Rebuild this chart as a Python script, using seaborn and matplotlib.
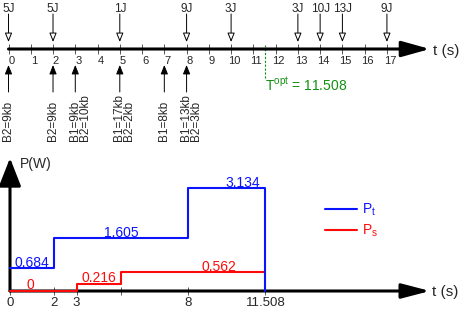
import matplotlib
matplotlib.use('Agg')
import matplotlib.pyplot as plt
import seaborn as sns
from matplotlib.transforms import ScaledTranslation

# energy arrivals (top arrows) and bit arrivals (bottom arrows) on the timeline
energy_times = [0, 2, 5, 8, 10, 13, 14, 15, 17]
energy_labels = ['5J', '5J', '1J', '9J', '3J', '3J', '10J', '13J', '9J']
data_times = [0, 2, 3, 5, 7, 8]
data_labels = ['B2=9kb', 'B2=9kb', 'B1=9kb\nB2=10kb', 'B1=17kb\nB2=2kb',
               'B1=8kb', 'B1=13kb\nB2=3kb']
timeline_ticks = list(range(18))
t_opt = 11.508

# power steps (last point closes the step)
pt_times = [0, 2, 8, 11.508]
pt_values = [0.684, 1.605, 3.134, 0]
ps_times = [0, 3, 5, 11.508]
ps_values = [0, 0.216, 0.562, 0.562]
power_ticks = [0, 2, 3, 5, 8, 11.508]
power_tick_labels = ['0', '2', '3', '', '8', '11.508']

# where the value labels sit along t
pt_label_t = [1.0, 5.0, 10.5]
ps_label_t = [0.9, 4.0, 9.4]

BLUE = '#0a14ff'
RED = '#ff0a0a'
GREEN = '#129012'


def fmt(v):
    return '0' if v == 0 else f'{v:.3f}'


def clean_axes(ax):
    ax.patch.set_visible(False)
    for side in ['left', 'right', 'top']:
        ax.spines[side].set_visible(False)
    ax.spines['bottom'].set_position(('data', 0))
    ax.spines['bottom'].set_color('none')
    ax.set_yticks([])


def main():
    sns.set_style('white')
    plt.rcParams['font.family'] = ['Liberation Sans', 'DejaVu Sans']
    plt.rcParams['mathtext.fontset'] = 'custom'
    plt.rcParams['mathtext.rm'] = 'Liberation Sans'
    plt.rcParams['mathtext.it'] = 'Liberation Sans'

    fig = plt.figure(figsize=(4.6, 3.09), dpi=100)
    shift = ScaledTranslation(0.03, 0, fig.dpi_scale_trans)

    # ---- top timeline ----
    ax = fig.add_axes([0, 1 - 150 / 309, 1, 150 / 309])
    ax.set_xlim(-8.5 / 22.26, 451.5 / 22.26)
    ax.set_ylim(-101, 49)
    clean_axes(ax)
    ax.set_xticks(timeline_ticks)
    ax.tick_params(axis='x', bottom=True, direction='inout', length=7.5, width=0.7,
                   color='#555555', labelsize=8, pad=1)
    for lbl in ax.get_xticklabels():
        lbl.set_transform(lbl.get_transform() + shift)

    ax.annotate('', xy=(18.93, 0), xytext=(0, 0),
                arrowprops=dict(arrowstyle='-|>,head_length=1.15,head_width=0.32',
                                mutation_scale=15, lw=2.2, color='black',
                                shrinkA=0, shrinkB=0))
    ax.text(19.07, -2, 't (s)', fontsize=11, ha='left', va='center')

    for t, lab in zip(energy_times, energy_labels):
        ax.annotate('', xy=(t, 7), xytext=(t, 35),
                    arrowprops=dict(arrowstyle='-|>,head_length=0.55,head_width=0.22',
                                    mutation_scale=10, lw=0.7, facecolor='white',
                                    edgecolor='black', shrinkA=0, shrinkB=0))
        ax.text(t, 39.5, lab, ha='center', va='center', fontsize=8.5)

    left_shift = ax.transData + ScaledTranslation(-0.065, 0, fig.dpi_scale_trans)
    for t, lab in zip(data_times, data_labels):
        ax.annotate('', xy=(t, -16), xytext=(t, -43),
                    arrowprops=dict(arrowstyle='-|>,head_length=0.55,head_width=0.22',
                                    mutation_scale=10, lw=0.7, color='black',
                                    shrinkA=0, shrinkB=0))
        ax.text(t, -92, lab, rotation=90, ha='left', va='bottom', fontsize=8.5,
                linespacing=0.8, transform=left_shift)

    ax.vlines(t_opt, -29, 4, colors=GREEN, lw=0.8, linestyles=(0, (2, 1.5)))
    ax.text(t_opt, -36, r'$\mathrm{T^{opt}}$ = ' + f'{t_opt}', color=GREEN,
            fontsize=10, ha='left', va='center')

    # ---- power plot ----
    ax2 = fig.add_axes([0, 0, 1, 165 / 309])
    ax2.set_xlim(-10 / 22.2, 450 / 22.2)
    ax2.set_ylim(-18 / 33, 147 / 33)
    clean_axes(ax2)

    ax2.annotate('', xy=(18.92, 0), xytext=(0, 0),
                 arrowprops=dict(arrowstyle='-|>,head_length=1.15,head_width=0.3',
                                 mutation_scale=15, lw=2.2, color='black',
                                 shrinkA=0, shrinkB=0), zorder=2)
    ax2.annotate('', xy=(0, 4.03), xytext=(0, 0),
                 arrowprops=dict(arrowstyle='-|>,head_length=1.15,head_width=0.45',
                                 mutation_scale=15, lw=2.2, color='black',
                                 shrinkA=0, shrinkB=0), zorder=2)
    ax2.text(0.45, 3.85, 'P(W)', fontsize=10, ha='left', va='center')
    ax2.text(19.0, -0.03, 't (s)', fontsize=11, ha='left', va='center')

    sns.lineplot(x=pt_times, y=pt_values, drawstyle='steps-post', color=BLUE, lw=1.5,
                 label=r'$\mathrm{P_t}$', ax=ax2, zorder=5)
    sns.lineplot(x=ps_times, y=ps_values, drawstyle='steps-post', color=RED, lw=1.5,
                 label=r'$\mathrm{P_s}$', ax=ax2, zorder=4)

    for t, v in zip(pt_label_t, pt_values):
        ax2.text(t, v + 0.03, fmt(v), color=BLUE, fontsize=10, ha='center', va='baseline')
    for t, v in zip(ps_label_t, ps_values):
        ax2.text(t, v + 0.05, fmt(v), color=RED, fontsize=10, ha='center', va='baseline')

    ax2.set_xticks(power_ticks, power_tick_labels)
    ax2.tick_params(axis='x', bottom=True, direction='inout', length=6, width=0.7,
                    color='#555555', labelsize=9.5, pad=1.5)

    ax2.legend(loc='upper left', bbox_to_anchor=(325 / 460, 1 - 202 / 309),
               bbox_transform=fig.transFigure, frameon=False, borderpad=0,
               borderaxespad=0, handlelength=2.3, handletextpad=0.35,
               labelspacing=0.3, fontsize=10, labelcolor='linecolor')

    fig.savefig('out.png', dpi=100)


if __name__ == "__main__":
    main()
